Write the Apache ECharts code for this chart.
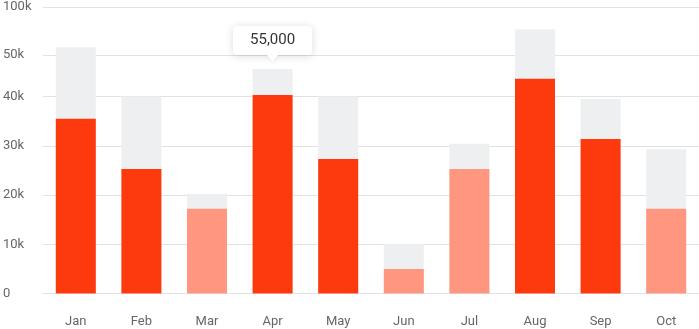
<!DOCTYPE html>
<html>
<head>
<meta charset="utf-8">
<script src="https://cdn.jsdelivr.net/npm/echarts@6/dist/echarts.min.js"></script>
<style>
html,body{margin:0;padding:0;background:#fff;}
#chart{width:699px;height:329px;}
</style>
</head>
<body>
<div id="chart"></div>
<script>
const months = ['Jan','Feb','Mar','Apr','May','Jun','Jul','Aug','Sep','Oct'];
const totals = [50000, 40000, 20200, 45600, 40000, 10000, 30400, 53700, 39500, 29300];
const actuals = [35500, 25300, 17200, 40300, 27300, 5000, 25300, 43600, 31400, 17200];
const tone = ['strong','strong','light','strong','strong','light','light','strong','strong','light'];
const yTickValues = [0, 10000, 20000, 30000, 40000, 48400, 58200];
const yTickLabels = ['0','10k','20k','30k','40k','50k','100k'];
const tipText = '55,000';
const tipIndex = 3;

const colors = {strong:'#FC3A0E', light:'#FF9780'};
const chart = echarts.init(document.getElementById('chart'));
chart.setOption({
  animation:false,
  grid:{left:40, right:-6, top:7, bottom:35.5},
  xAxis:{
    type:'category', data:months,
    axisLine:{show:false}, axisTick:{show:false},
    axisLabel:{color:'#666', fontFamily:'Roboto', fontSize:13, margin:22}
  },
  yAxis:{
    type:'value', min:0, max:yTickValues[yTickValues.length-1],
    axisLine:{show:false},
    axisTick:{show:false, customValues:yTickValues},
    splitLine:{lineStyle:{color:'#E2E2E2', width:1}},
    axisLabel:{
      customValues:yTickValues,
      color:'#666', fontFamily:'Roboto', fontSize:13, align:'left', margin:40,
      formatter:function(v){const i=yTickValues.indexOf(v);return i>=0?yTickLabels[i]:'';}
    }
  },
  series:[
    {type:'bar', data:totals, barWidth:40, barGap:'-100%', itemStyle:{color:'#EEEFF1'}, silent:true},
    {type:'bar', data:actuals.map((v,i)=>({value:v, itemStyle:{color:colors[tone[i]]}})), barWidth:40, silent:true}
  ]
});
const p = chart.convertToPixel({gridIndex:0}, [tipIndex, totals[tipIndex]]);
const cx = p[0], tipY = p[1]-7;
chart.setOption({
  graphic:[{
    type:'group',
    children:[
      {type:'rect', shape:{x:cx-39.5, y:tipY-36, width:79, height:29, r:4},
       style:{fill:'#fff', shadowBlur:8, shadowColor:'rgba(0,0,0,0.15)', shadowOffsetY:1}},
      {type:'polygon', shape:{points:[[cx-6,tipY-7.5],[cx+6,tipY-7.5],[cx,tipY]]},
       style:{fill:'#fff', shadowBlur:4, shadowColor:'rgba(0,0,0,0.08)', shadowOffsetY:1}},
      {type:'rect', shape:{x:cx-10, y:tipY-12, width:20, height:5}, style:{fill:'#fff'}},
      {type:'text', x:cx, y:tipY-21.5, style:{text:tipText, fill:'#333', font:'15px Roboto', align:'center', verticalAlign:'middle'}}
    ]
  }]
});
</script>
</body>
</html>
